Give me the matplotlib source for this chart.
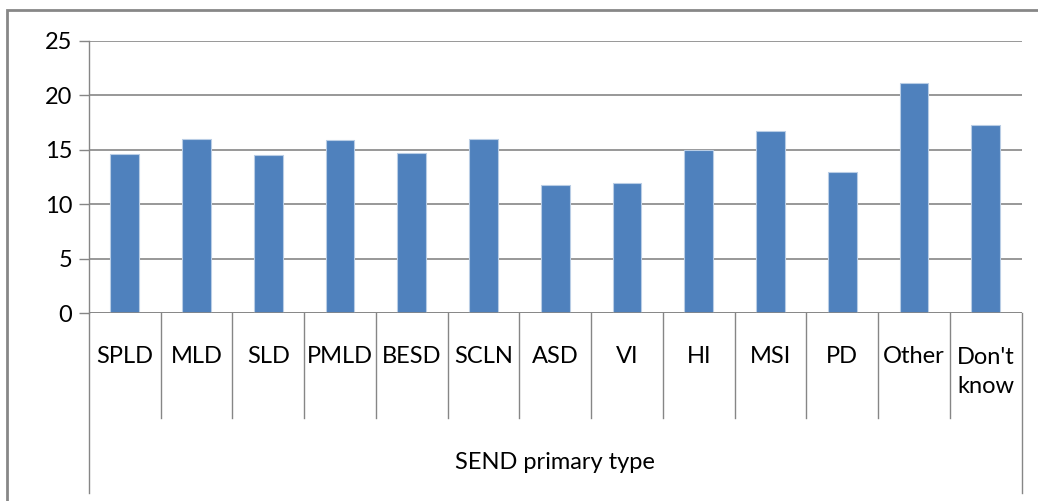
import matplotlib.pyplot as plt
import numpy as np
from matplotlib.patches import Rectangle
from matplotlib.transforms import blended_transform_factory

# data
categories = ['SPLD', 'MLD', 'SLD', 'PMLD', 'BESD', 'SCLN', 'ASD',
              'VI', 'HI', 'MSI', 'PD', 'Other', "Don't\nknow"]
values = [14.6, 16.0, 14.5, 15.9, 14.7, 16.0, 11.8,
          12.0, 15.0, 16.7, 13.0, 21.1, 17.3]
group_label = 'SEND primary type'
y_ticks = [0, 5, 10, 15, 20, 25]

bar_color = '#4F81BD'
line_color = '#868686'

plt.rcParams['font.family'] = ['Lato', 'DejaVu Sans']

fig = plt.figure(figsize=(10.38, 5.01), dpi=100)
ax = fig.add_axes([0.0855, 0.3743, 0.8988, 0.5445])

x = np.arange(len(categories))
ax.bar(x, values, width=0.4, color=bar_color, edgecolor='#B9CDE5',
       linewidth=0.8, zorder=3)

ax.set_xlim(-0.5, len(categories) - 0.5)
ax.set_ylim(0, 25)
ax.set_yticks(y_ticks)
ax.tick_params(axis='y', length=7, width=1, color=line_color, pad=5,
               labelsize=17, labelcolor='#000000')
ax.set_xticks([])
ax.yaxis.grid(True, color=line_color, linewidth=1.2, zorder=0)

for side in ['top', 'right', 'bottom']:
    ax.spines[side].set_visible(False)
ax.spines['left'].set_color(line_color)
ax.spines['left'].set_linewidth(1)
ax.axhline(0, color=line_color, linewidth=1.2, zorder=4)

# multi-level category axis below the plot
trans = blended_transform_factory(ax.transData, ax.transAxes)
sep_low = -0.383
outer_low = -0.658
for i in range(1, len(categories)):
    ax.plot([i - 0.5, i - 0.5], [0, sep_low], transform=trans,
            color=line_color, linewidth=1, clip_on=False)
for edge in [-0.5, len(categories) - 0.5]:
    ax.plot([edge, edge], [0, outer_low], transform=trans,
            color=line_color, linewidth=1, clip_on=False)

for i, label in enumerate(categories):
    y_pos = -0.156 if '\n' not in label else -0.214
    ax.text(i, y_pos, label, transform=trans, ha='center', va='center',
            fontsize=17, linespacing=1.45, color='#000000')

ax.text((len(categories) - 1) / 2, -0.548, group_label, transform=trans,
        ha='center', va='center', fontsize=17, color='#000000')

# outer chart frame
fig.patches.append(Rectangle((0.0067, -0.1), 1.1, 1.08,
                             transform=fig.transFigure, fill=False,
                             edgecolor='#878787', linewidth=2))

fig.savefig('out.png', dpi=100, facecolor='white')
